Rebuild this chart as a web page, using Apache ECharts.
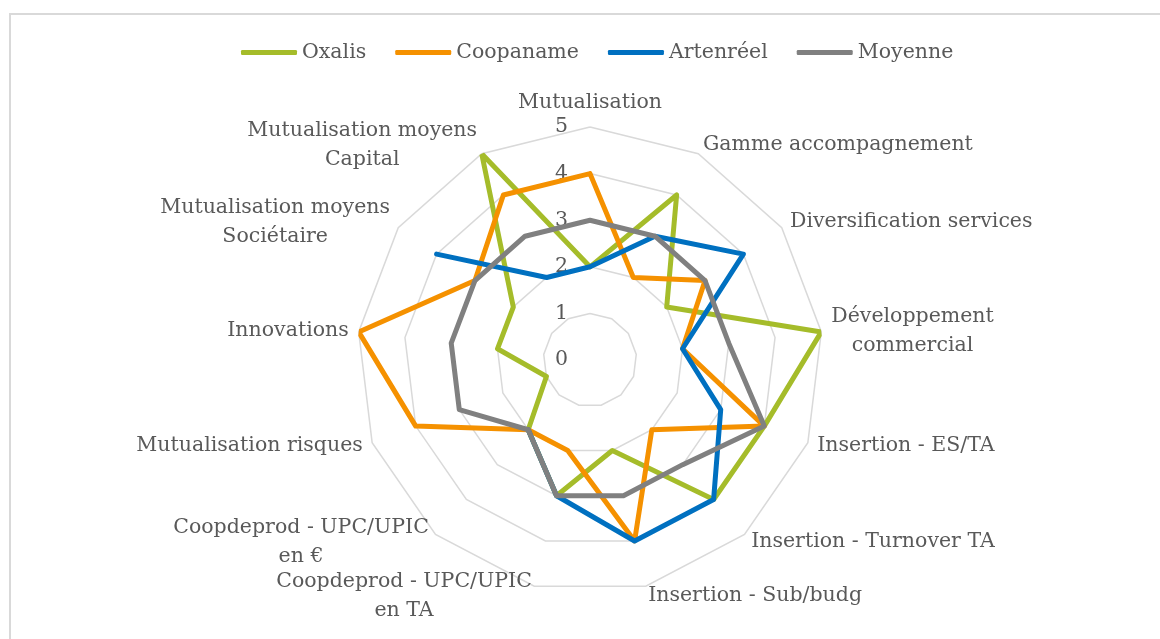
<!DOCTYPE html>
<html>
<head>
<meta charset="utf-8">
<script src="https://cdn.jsdelivr.net/npm/echarts@6/dist/echarts.min.js"></script>
<style>
html,body{margin:0;padding:0;background:#fff;}
#chart{width:1160px;height:639px;}
</style>
</head>
<body>
<div id="chart"></div>
<script>
const categories = ['Mutualisation','Gamme accompagnement','Diversification services','Développement\ncommercial','Insertion - ES/TA','Insertion - Turnover TA','Insertion - Sub/budg','Coopdeprod - UPC/UPIC\nen TA','Coopdeprod - UPC/UPIC\nen €','Mutualisation risques','Innovations','Mutualisation moyens\nSociétaire','Mutualisation moyens\nCapital'];
const seriesNames = ['Oxalis','Coopaname','Artenréel','Moyenne'];
const oxalis    = [2,4,2,5,4,4,2,3,2,1,2,2,5];
const coopaname = [4,2,3,2,4,2,4,2,2,4,5,3,4];
const artenreel = [2,3,4,2,3,4,4,3,2,null,null,4,2];
const moyenne   = [3,3,3,3,4,3,3,3,2,3,3,3,3];
const tickValues = [0,1,2,3,4,5];

const colors = ['#A5BC2A','#F59100','#0070C0','#808080'];
const FONT = 'DejaVu Serif';
const FS = 20.5;
const TXT = '#595959';
const CX = 590, CY = 360, R = 233;

function toPolar(vals){
  const d = vals.map((v,i)=>[v, i]);
  d.push([vals[0], vals.length]);
  return d;
}
const allVals = [oxalis, coopaname, artenreel, moyenne];
// radar indicators run counter-clockwise: reorder so categories go clockwise
const radarOrder = [categories[0]].concat(categories.slice(1).reverse());

const chart = echarts.init(document.getElementById('chart'), null, {renderer:'canvas'});
chart.setOption({
  backgroundColor:'#fff',
  animation:false,
  color: colors,
  graphic:[{
    type:'rect', z:-10, silent:true,
    shape:{x:10, y:14, width:1200, height:700},
    style:{fill:'none', stroke:'#d9d9d9', lineWidth:2}
  }],
  legend:{
    data: seriesNames,
    left: 236, top: 37,
    icon:'roundRect', itemWidth:56, itemHeight:5, itemGap:29,
    textStyle:{fontFamily:FONT, fontSize:FS, color:TXT}
  },
  radar:{
    center:[CX,CY], radius:R, shape:'polygon', splitNumber:5, startAngle:90,
    indicator: radarOrder.map(c=>({name:c, min:0, max:5})),
    nameGap:10,
    axisName:{
      color:TXT, fontFamily:FONT, fontSize:FS, lineHeight:29,
      formatter:(n)=>n.split('\n').map(l=>'{c|'+l+'}').join('\n'),
      rich:{c:{align:'center', color:TXT, fontFamily:FONT, fontSize:FS, lineHeight:29}}
    },
    axisLine:{show:false}, axisTick:{show:false}, axisLabel:{show:false},
    splitArea:{show:false},
    splitLine:{lineStyle:{color:'#d9d9d9', width:1.5}}
  },
  polar:{center:[CX,CY], radius:R},
  angleAxis:{
    type:'value', min:0, max:categories.length, startAngle:90, clockwise:true,
    axisLine:{show:false}, axisTick:{show:false}, axisLabel:{show:false}, splitLine:{show:false}
  },
  radiusAxis:{
    type:'value', min:tickValues[0], max:tickValues[tickValues.length-1], interval:1,
    axisLine:{show:false}, axisTick:{show:false}, splitLine:{show:false},
    axisLabel:{color:TXT, fontFamily:FONT, fontSize:FS, margin:22}
  },
  series: seriesNames.map((n,k)=>({
    name:n, type:'line', coordinateSystem:'polar',
    data: toPolar(allVals[k]),
    symbol:'none', connectNulls:false,
    lineStyle:{width:5, color:colors[k], cap:'round', join:'round'},
    itemStyle:{color:colors[k]},
    z: 3+k
  }))
});
</script>
</body>
</html>
